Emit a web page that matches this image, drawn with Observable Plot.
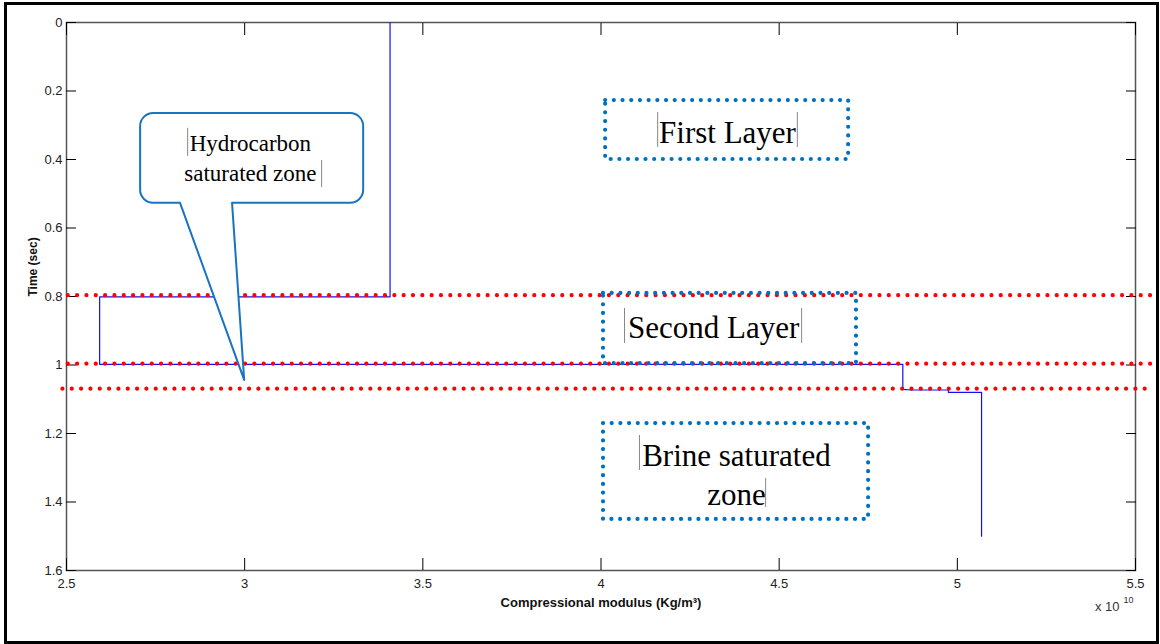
<!DOCTYPE html>
<html><head><meta charset="utf-8">
<script src="https://cdn.jsdelivr.net/npm/d3@7"></script>
<script src="https://cdn.jsdelivr.net/npm/@observablehq/plot@0.6"></script>
<style>
body{margin:0;background:#fff;}
#wrap{position:relative;width:1160px;height:644px;overflow:hidden;background:#fff;}
#wrap svg{position:absolute;left:0;top:0;}
#border{position:absolute;left:4px;top:2px;width:1155px;height:642px;border:3px solid #000;box-sizing:border-box;pointer-events:none;}
</style></head><body><div id="wrap"></div>
<script>
// Step curve: compressional modulus (x 10^10) vs time (sec)
const modulus = [3.408, 3.408, 2.593, 2.593, 4.847, 4.847, 4.870, 4.975, 4.975, 5.068, 5.068];
const time    = [0, 0.801, 0.801, 0.998, 0.998, 1.071, 1.073, 1.073, 1.080, 1.080, 1.500];

// Red dotted layer boundaries
const boundaryTimes = [0.796, 0.996, 1.069];
const boundaryStart = [2.505, 2.505, 2.49];
const boundaryEnd   = [5.545, 5.545, 5.545];

// Ticks
const xTicks = [2.5, 3, 3.5, 4, 4.5, 5, 5.5];
const yTicks = [0, 0.2, 0.4, 0.6, 0.8, 1, 1.2, 1.4, 1.6];

// Dotted annotation boxes
const boxLabels = ["First Layer", "Second Layer", "Brine saturated\nzone"];
const boxX1 = [4.013, 4.007, 4.007];
const boxX2 = [4.695, 4.717, 4.751];
const boxY1 = [0.228, 0.791, 1.171];
const boxY2 = [0.400, 0.996, 1.451];
const labelX = [4.355, 4.316, 4.380];
const labelY = [0.315, 0.885, 1.315];

// Callout
const calloutText = "Hydrocarbon\nsaturated zone";
const calloutBox = {x1: 2.708, x2: 3.334, y1: 0.266, y2: 0.528, baseL: 2.820, baseR: 2.966, tipX: 3.0, tipY: 1.045, textX: 3.016, textY: 0.390};

// Text cursor marks beside the annotation texts
const cursorX  = [4.159, 4.551, 4.066, 4.563, 4.108, 4.462, 2.840, 3.216];
const cursorY1 = [0.263, 0.263, 0.835, 0.835, 1.206, 1.331, 0.309, 0.403];
const cursorY2 = [0.365, 0.365, 0.937, 0.937, 1.308, 1.416, 0.391, 0.482];

const xLabel = "Compressional modulus (Kg/m³)";
const yLabel = "Time (sec)";
const xExponentBase = "x 10";
const xExponentPower = "10";

const idx = n => d3.range(n);
const sans = "'Liberation Sans', Arial, Helvetica, sans-serif";
const serif = "'Liberation Serif', 'Times New Roman', serif";

function callout(index, scales) {
  const {x, y} = scales;
  const c = calloutBox;
  const x1 = x(c.x1), x2 = x(c.x2), y1 = y(c.y1), y2 = y(c.y2), r = 13;
  const p = d3.path();
  p.moveTo(x1 + r, y1);
  p.lineTo(x2 - r, y1);
  p.arcTo(x2, y1, x2, y1 + r, r);
  p.lineTo(x2, y2 - r);
  p.arcTo(x2, y2, x2 - r, y2, r);
  p.lineTo(x(c.baseR), y2);
  p.lineTo(x(c.tipX), y(c.tipY));
  p.lineTo(x(c.baseL), y2);
  p.lineTo(x1 + r, y2);
  p.arcTo(x1, y2, x1, y2 - r, r);
  p.lineTo(x1, y1 + r);
  p.arcTo(x1, y1, x1 + r, y1, r);
  p.closePath();
  return d3.create("svg:path")
    .attr("d", p.toString())
    .attr("fill", "white")
    .attr("stroke", "#1874c0")
    .attr("stroke-width", 2)
    .attr("stroke-linejoin", "round")
    .node();
}

const chart = Plot.plot({
  width: 1160,
  height: 644,
  marginLeft: 66,
  marginRight: 25,
  marginTop: 22,
  marginBottom: 74,
  style: {fontFamily: sans, fontSize: "13px", color: "#222", background: "white"},
  x: {domain: [2.5, 5.5], axis: null},
  y: {domain: [0, 1.6], reverse: true, axis: null},
  marks: [
    Plot.frame({stroke: "#555", strokeWidth: 1.5}),
    // inward ticks on all four sides
    Plot.axisX({anchor: "bottom", ticks: xTicks, tickSize: 12, dy: -12, tickFormat: () => "", label: null, stroke: "#000"}),
    Plot.axisX({anchor: "top", ticks: xTicks, tickSize: 12, dy: 12, tickFormat: () => "", label: null, stroke: "#000"}),
    Plot.axisY({anchor: "left", ticks: yTicks, tickSize: 10, dx: 10, tickFormat: () => "", label: null, stroke: "#000"}),
    Plot.axisY({anchor: "right", ticks: yTicks, tickSize: 10, dx: -10, tickFormat: () => "", label: null, stroke: "#000"}),
    // tick labels
    Plot.axisX({anchor: "bottom", ticks: xTicks, tickSize: 0, tickPadding: 8, tickFormat: d => String(d), label: null, fontSize: 13, fill: "#222"}),
    Plot.axisY({anchor: "left", ticks: yTicks, tickSize: 0, tickPadding: 4, tickFormat: d => String(d), label: null, fontSize: 13, fill: "#222"}),
    // axis titles
    Plot.text([xLabel], {text: d => d, frameAnchor: "bottom", dy: 36, fontWeight: "bold", fontSize: 13, fill: "#111"}),
    Plot.text([yLabel], {text: d => d, frameAnchor: "left", dx: -33, rotate: -90, fontWeight: "bold", fontSize: 12, fill: "#111"}),
    Plot.text([xExponentBase], {text: d => d, frameAnchor: "bottom-right", dx: -16, dy: 40, textAnchor: "end", fontSize: 13, fill: "#333"}),
    Plot.text([xExponentPower], {text: d => d, frameAnchor: "bottom-right", dx: -2, dy: 32, textAnchor: "end", fontSize: 9, fill: "#333"}),
    // step curve
    Plot.line(idx(modulus.length), {x: i => modulus[i], y: i => time[i], stroke: "#1010ff", strokeWidth: 1.2}),
    // red dotted boundaries
    Plot.ruleY(idx(boundaryTimes.length), {y: i => boundaryTimes[i], x1: i => boundaryStart[i], x2: i => boundaryEnd[i], stroke: "#ff0000", strokeWidth: 4.2, strokeDasharray: "0 9.33", strokeLinecap: "round"}),
    // blue dotted boxes
    Plot.rect(idx(boxLabels.length), {x1: i => boxX1[i], x2: i => boxX2[i], y1: i => boxY1[i], y2: i => boxY2[i], fill: "none", stroke: "#0070c0", strokeWidth: 4.2, strokeDasharray: "0 8.7", strokeLinecap: "round"}),
    Plot.text(idx(boxLabels.length), {x: i => labelX[i], y: i => labelY[i], text: i => boxLabels[i], fontFamily: serif, fontSize: 31, lineHeight: 1.26, lineAnchor: "middle", textAnchor: "middle", fill: "#000"}),
    // callout
    callout,
    Plot.text([calloutText], {x: calloutBox.textX, y: calloutBox.textY, text: d => d, fontFamily: serif, fontSize: 23, lineHeight: 1.3, lineAnchor: "middle", textAnchor: "middle", fill: "#000"}),
    // text cursor marks
    Plot.ruleX(idx(cursorX.length), {x: i => cursorX[i], y1: i => cursorY1[i], y2: i => cursorY2[i], stroke: "#888", strokeWidth: 1})
  ]
});

const wrap = document.getElementById("wrap");
wrap.appendChild(chart);
const b = document.createElement("div");
b.id = "border";
wrap.appendChild(b);
</script>
</body></html>
